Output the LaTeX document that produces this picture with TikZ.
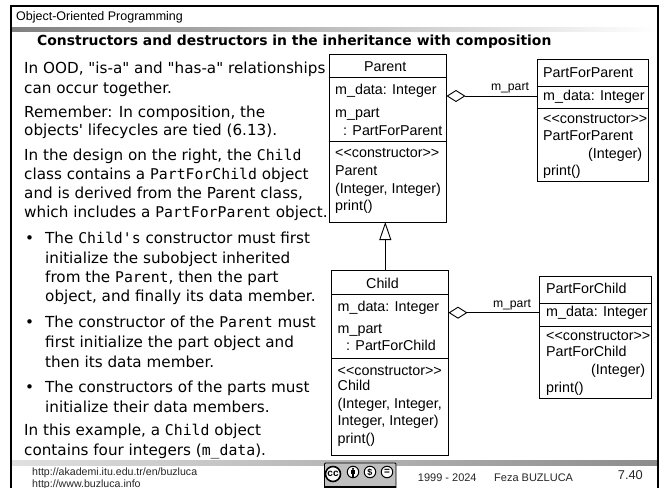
\documentclass[tikz,border=0pt]{standalone}
\usepackage{fontspec}
\usetikzlibrary{arrows.meta}
\newfontfamily\bodyf{DejaVu Sans}
\newfontfamily\monof{DejaVu Sans Mono}
\newfontfamily\arialf{Liberation Sans}
\newcommand{\cd}[1]{{\monof\fontsize{14.8}{15}\selectfont #1}}
\tikzset{
  x=1pt,y=-1pt,
  txt/.style={anchor=base west,inner sep=0pt,font=\bodyf\fontsize{15.2}{15}\selectfont,text=black},
  uml/.style={anchor=base west,inner sep=0pt,font=\arialf\fontsize{14.3}{15}\selectfont,text=black},
  foot/.style={anchor=base west,inner sep=0pt,font=\arialf\fontsize{10.6}{11}\selectfont,text=black!85},
  classbox/.style={draw=black,line width=0.9pt,fill=white,rectangle,inner sep=0pt,anchor=north west},
  ccsym/.style={circle,draw=black,line width=1pt,fill=white,inner sep=0pt,minimum size=11.5pt},
}
\newcommand{\tl}[4]{\node[txt] (#1) at (#2,#3) {#4};}
\newcommand{\ul}[4]{\node[uml] (#1) at (#2,#3) {#4};}
\begin{document}
\begin{tikzpicture}
\useasboundingbox (0,0) rectangle (665,488);
\fill[white] (0,0) rectangle (665,488);
% slide frame and bars
\shade[left color=black!50,right color=white,shading angle=90] (12,27) rectangle (657,31);
\shade[left color=black!12,right color=black!45,shading angle=90] (12,460) rectangle (657,465);
\draw[line width=2pt] (11,488) -- (11,6) -- (658,6) -- (658,488);
\node[anchor=base west,inner sep=0pt,font=\arialf\fontsize{12.5}{13}\selectfont] (head) at (16,20) {Object-Oriented Programming};
\node[anchor=base west,inner sep=0pt,font=\bodyf\bfseries\fontsize{13.9}{15}\selectfont] (title) at (37,45) {Constructors and destructors in the inheritance with composition};
% left text
\tl{a1}{24}{73}{In OOD, "is-a" and "has-a" relationships}
\tl{a2}{24}{93}{can occur together.}
\tl{b1}{24}{117}{Remember: In composition, the}
\tl{b2}{24}{135}{objects' lifecycles are tied (6.13).}
\tl{c1}{24}{160}{In the design on the right, the \cd{Child}}
\tl{c2}{24}{179}{class contains a \cd{PartForChild} object}
\tl{c3}{24}{198}{and is derived from the Parent class,}
\tl{c4}{24}{217}{which includes a \cd{PartForParent} object.}
\tl{d0}{25}{243}{•}
\tl{d1}{45}{243}{The \cd{Child's} constructor must first}
\tl{d2}{45}{263}{initialize the subobject inherited}
\tl{d3}{45}{282}{from the \cd{Parent}, then the part}
\tl{d4}{45}{301}{object, and finally its data member.}
\tl{e0}{25}{327}{•}
\tl{e1}{45}{327}{The constructor of the \cd{Parent} must}
\tl{e2}{45}{347}{first initialize the part object and}
\tl{e3}{45}{367}{then its data member.}
\tl{f0}{25}{392}{•}
\tl{f1}{45}{392}{The constructors of the parts must}
\tl{f2}{45}{412}{initialize their data members.}
\tl{g1}{24}{435}{In this example, a \cd{Child} object}
\tl{g2}{24}{455}{contains four integers (\cd{m\_data}).}
% class boxes
\node[classbox,minimum width=117pt,minimum height=168.5pt] (parent) at (328.5,53.5) {};
\node[classbox,minimum width=111.5pt,minimum height=122pt] (pfp) at (536.7,59) {};
\node[classbox,minimum width=117pt,minimum height=185pt] (child) at (331,270) {};
\node[classbox,minimum width=112pt,minimum height=122pt] (pfc) at (539,276) {};
\draw[line width=0.9pt] (parent.west |- 0,77.5) -- (parent.east |- 0,77.5);
\draw[line width=0.9pt] (parent.west |- 0,141) -- (parent.east |- 0,141);
\draw[line width=0.9pt] (pfp.west |- 0,86) -- (pfp.east |- 0,86);
\draw[line width=0.9pt] (pfp.west |- 0,108) -- (pfp.east |- 0,108);
\draw[line width=0.9pt] (child.west |- 0,294) -- (child.east |- 0,294);
\draw[line width=0.9pt] (child.west |- 0,358) -- (child.east |- 0,358);
\draw[line width=0.9pt] (pfc.west |- 0,303) -- (pfc.east |- 0,303);
\draw[line width=0.9pt] (pfc.west |- 0,326) -- (pfc.east |- 0,326);
% class text
\ul{p1}{364}{71}{Parent}
\ul{p2}{335}{94}{m\_data: Integer}
\ul{p3}{335}{117}{m\_part}
\ul{p4}{343}{135}{: PartForParent}
\ul{p5}{335}{157}{{<}{<}constructor{>}{>}}
\ul{p6}{335}{175}{Parent}
\ul{p7}{335}{193}{(Integer, Integer)}
\ul{p8}{335}{210}{print()}
\ul{q1}{543}{77}{PartForParent}
\ul{q2}{543}{100}{m\_data: Integer}
\ul{q3}{543}{123}{{<}{<}constructor{>}{>}}
\ul{q4}{543}{140}{PartForParent}
\ul{q5}{588}{158}{(Integer)}
\ul{q6}{543}{175}{print()}
\ul{r1}{366}{288}{Child}
\ul{r2}{337.5}{311}{m\_data: Integer}
\ul{r3}{337.5}{333}{m\_part}
\ul{r4}{346}{350}{: PartForChild}
\ul{r5}{337.5}{375}{{<}{<}constructor{>}{>}}
\ul{r6}{337.5}{390}{Child}
\ul{r7}{337.5}{408}{(Integer, Integer,}
\ul{r8}{337.5}{425}{Integer, Integer)}
\ul{r9}{337.5}{443}{print()}
\ul{s1}{546}{293}{PartForChild}
\ul{s2}{546}{316}{m\_data: Integer}
\ul{s3}{546}{340}{{<}{<}constructor{>}{>}}
\ul{s4}{546}{356}{PartForChild}
\ul{s5}{591}{374}{(Integer)}
\ul{s6}{546}{392}{print()}
% connectors
\coordinate (pdia) at (446.5,96);
\coordinate (cdia) at (448.5,312.7);
\coordinate (inhtop) at (385.3,222);
\coordinate (inhbot) at (385.3,270);
\draw[line width=0.9pt,{Diamond[open,fill=white,length=19pt,width=12pt]}-] (pdia) -- (pfp.west |- pdia);
\draw[line width=0.9pt,{Diamond[open,fill=white,length=19pt,width=12pt]}-] (cdia) -- (pfc.west |- cdia);
\draw[line width=0.9pt,-{Triangle[open,fill=white,length=18pt,width=12pt]}] (inhbot) -- (inhtop);
\node[anchor=base,inner sep=0pt,font=\arialf\fontsize{12.2}{13}\selectfont] (lab1) at (510,90) {m\_part};
\node[anchor=base,inner sep=0pt,font=\arialf\fontsize{12.2}{13}\selectfont] (lab2) at (512,307) {m\_part};
% footer
\node[foot] (u1) at (32,475) {http://akademi.itu.edu.tr/en/buzluca};
\node[foot] (u2) at (32,487) {http://www.buzluca.info};
\node[foot,font=\arialf\fontsize{11}{11}\selectfont] (yr) at (417.7,481) {1999 - 2024};
\node[foot,font=\arialf\fontsize{11}{11}\selectfont] (au) at (494,481) {Feza BUZLUCA};
\node[anchor=base west,inner sep=0pt,font=\arialf\fontsize{12.8}{13}\selectfont,text=black!85] (pg) at (617.7,479) {7.40};
% licence badge
\begin{scope}
\clip (322,462) rectangle (398,488);
\draw[line width=0.8pt,fill=black!25,rounded corners=1pt] (324.5,463) rectangle (396,495);
\fill[black] (324.5,486) rectangle (396,495);
\node[circle,draw=black,line width=1.6pt,fill=white,inner sep=0pt,minimum size=15pt,font=\arialf\bfseries\fontsize{10}{10}\selectfont] (cc) at (333,474) {cc};
\node[ccsym] (by) at (353,472) {};
\node[ccsym,font=\arialf\bfseries\fontsize{9}{9}\selectfont] (nc) at (370,472) {\$};
\node[ccsym,font=\arialf\bfseries\fontsize{10}{9}\selectfont] (nd) at (387,472) {=};
\fill (by.center) ++(0,-3.2) circle (1.2);
\fill (351.2,470.4) rectangle (354.8,474.4);
\fill (352,474.4) rectangle (354,477);
\end{scope}
\end{tikzpicture}
\end{document}
